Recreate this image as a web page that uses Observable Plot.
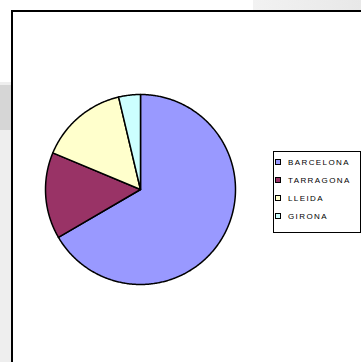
<!DOCTYPE html>
<html>
<head>
<meta charset="utf-8">
<script src="https://cdn.jsdelivr.net/npm/d3@7"></script>
<script src="https://cdn.jsdelivr.net/npm/@observablehq/plot@0.6"></script>
<style>
  html, body { margin: 0; padding: 0; background: #fff; width: 361px; height: 362px; overflow: hidden; }
  #stage { position: relative; width: 361px; height: 362px; overflow: hidden; font-family: "Liberation Sans", Arial, sans-serif; }
  .bg { position: absolute; }
  #frame { position: absolute; left: 11px; top: 10px; width: 400px; height: 400px; border: 2px solid #000; background: #fff; box-sizing: border-box; }
  #chart { position: absolute; left: 0; top: 0; }
  #legend { position: absolute; left: 273px; top: 151px; width: 88px; height: 82px; border: 1px solid #000; background: #fff; box-sizing: border-box; }
  .row { position: absolute; left: 1px; height: 10px; display: flex; align-items: center; font-size: 8px; letter-spacing: 1.4px; color: #000; white-space: nowrap; }
  .sw { width: 4px; height: 4px; border: 1px solid #000; margin-right: 7px; }
</style>
</head>
<body>
<div id="stage">
  <div class="bg" style="left:253px;top:0;width:108px;height:11px;background:linear-gradient(90deg,#f2f2f2,#e8e8e8);"></div>
  <div class="bg" style="left:0;top:82px;width:12px;height:280px;background:#eeeeee;"></div>
  <div class="bg" style="left:0;top:85px;width:12px;height:45px;background:#d6d6d6;"></div>
  <div id="frame"></div>
  <div id="chart"></div>
  <div id="legend"></div>
</div>
<script>
const regions = ["BARCELONA", "TARRAGONA", "LLEIDA", "GIRONA"];
const shares = [66.6, 14.7, 15.0, 3.7];
const colors = ["#9999FF", "#993366", "#FFFFCC", "#CCFFFF"];

const arcs = d3.pie().sort(null).startAngle(0).endAngle(2 * Math.PI)(shares);
const pts = [];
arcs.forEach((a, i) => {
  const n = Math.max(2, Math.ceil((a.endAngle - a.startAngle) / 0.01));
  pts.push({k: regions[i], x: 0, y: 0});
  for (let j = 0; j <= n; j++) {
    const t = a.startAngle + (a.endAngle - a.startAngle) * j / n;
    pts.push({k: regions[i], x: Math.sin(t), y: Math.cos(t)});
  }
  pts.push({k: regions[i], x: 0, y: 0});
});

const chart = Plot.plot({
  width: 361,
  height: 362,
  marginLeft: 45,
  marginRight: 126,
  marginTop: 94,
  marginBottom: 78,
  x: {domain: [-1, 1], axis: null},
  y: {domain: [-1, 1], axis: null},
  color: {domain: regions, range: colors},
  style: {background: "transparent"},
  marks: [
    Plot.line(pts, {x: "x", y: "y", z: "k", fill: "k", stroke: "#000", strokeWidth: 1.5, strokeLinejoin: "round", curve: "linear"})
  ]
});
document.getElementById("chart").appendChild(chart);

const lg = document.getElementById("legend");
regions.forEach((r, i) => {
  const row = document.createElement("div");
  row.className = "row";
  row.style.top = (5 + i * 18) + "px";
  const sw = document.createElement("div");
  sw.className = "sw";
  sw.style.background = colors[i];
  const tx = document.createElement("span");
  tx.textContent = r;
  row.appendChild(sw);
  row.appendChild(tx);
  lg.appendChild(row);
});
</script>
</body>
</html>
